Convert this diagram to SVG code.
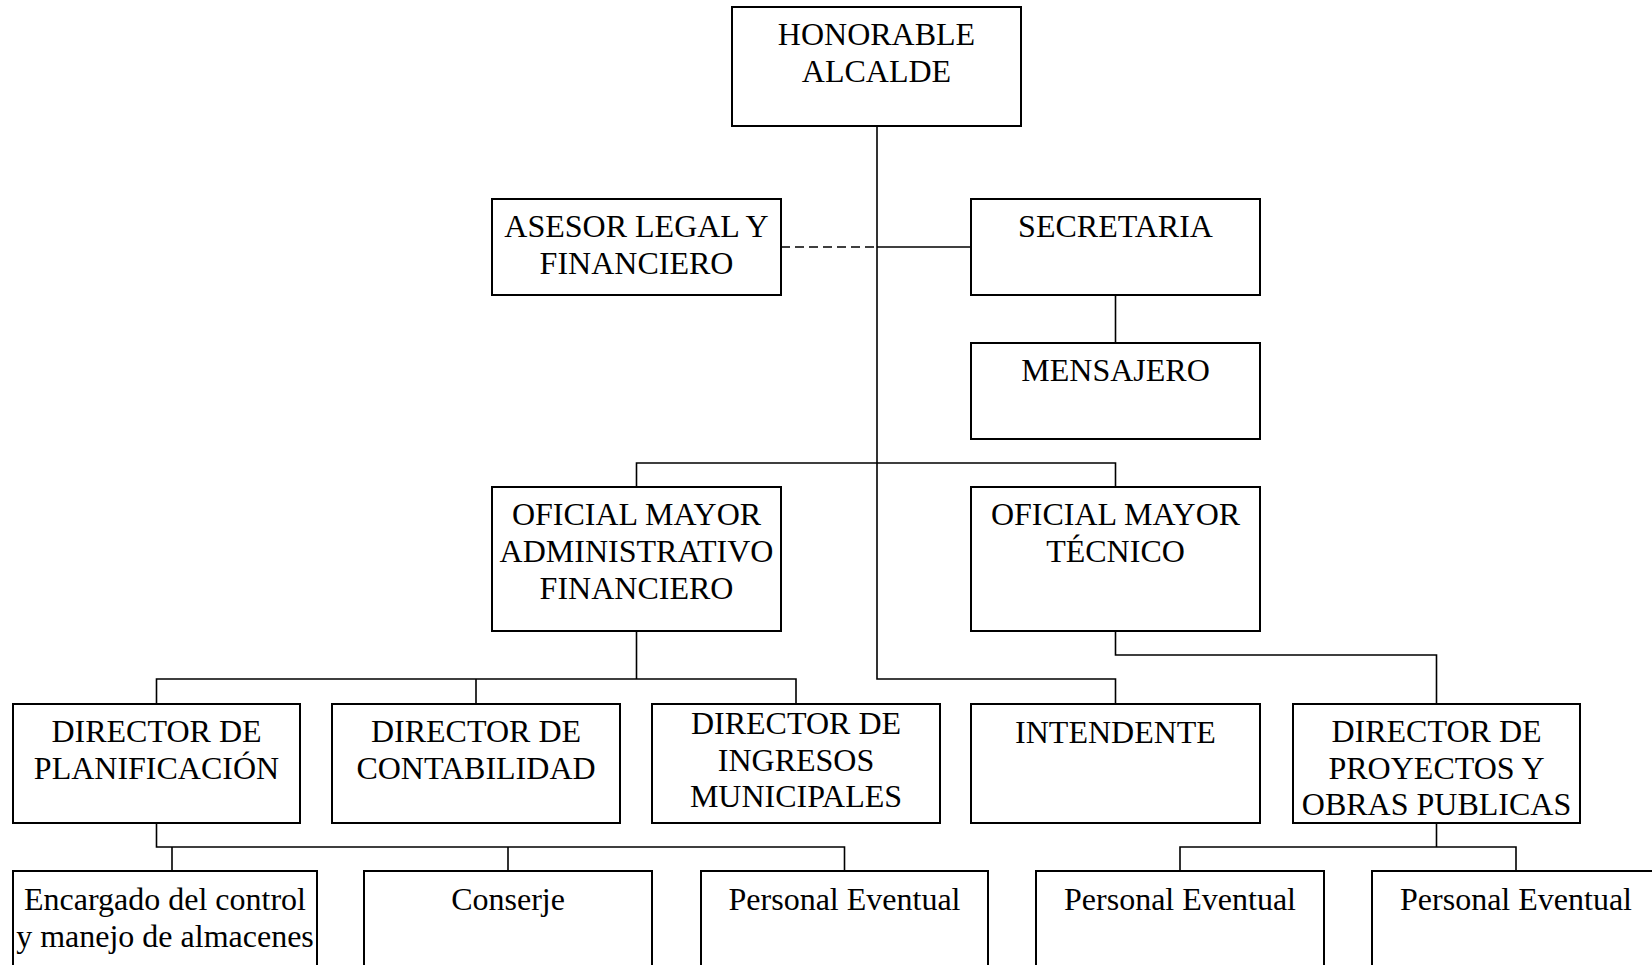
<svg xmlns="http://www.w3.org/2000/svg" width="1652" height="965" viewBox="0 0 1652 965">
<style>
.box{fill:#fff;stroke:#000;stroke-width:2}
.t{font-family:"Liberation Serif","Times New Roman",serif;font-size:32px;fill:#000;text-anchor:middle}
.c{fill:none;stroke:#000;stroke-width:1.6}
.d{fill:none;stroke:#000;stroke-width:1.6;stroke-dasharray:9 5}
</style>
<rect width="1652" height="965" fill="#fff"/>
<g id="connectors">
<path class="c" d="M877 126V679H1115.5V704"/>
<path class="d" d="M781 247H877"/>
<path class="c" d="M877 247H971"/>
<path class="c" d="M1115.5 295V343"/>
<path class="c" d="M636.5 487V463H1115.5V487"/>
<path class="c" d="M636.5 631V679"/>
<path class="c" d="M156.5 704V679H796V704M476 679V704"/>
<path class="c" d="M1115.5 631V655H1436.5V704"/>
<path class="c" d="M156.5 823V847H844.5V871M172 847V871M508 847V871"/>
<path class="c" d="M1436.5 823V847M1180 871V847H1516V871"/>
</g>
<g id="alcalde"><rect class="box" x="732" y="7" width="289" height="119"/><text class="t" x="876.5" y="45">HONORABLE</text><text class="t" x="876.5" y="82">ALCALDE</text></g>
<g id="asesor"><rect class="box" x="492" y="199" width="289" height="96"/><text class="t" x="636.5" y="237">ASESOR LEGAL Y</text><text class="t" x="636.5" y="274">FINANCIERO</text></g>
<g id="secretaria"><rect class="box" x="971" y="199" width="289" height="96"/><text class="t" x="1115.5" y="237">SECRETARIA</text></g>
<g id="mensajero"><rect class="box" x="971" y="343" width="289" height="96"/><text class="t" x="1115.5" y="381">MENSAJERO</text></g>
<g id="om-adm"><rect class="box" x="492" y="487" width="289" height="144"/><text class="t" x="636.5" y="525">OFICIAL MAYOR</text><text class="t" x="636.5" y="562">ADMINISTRATIVO</text><text class="t" x="636.5" y="599">FINANCIERO</text></g>
<g id="om-tec"><rect class="box" x="971" y="487" width="289" height="144"/><text class="t" x="1115.5" y="525">OFICIAL MAYOR</text><text class="t" x="1115.5" y="562">TÉCNICO</text></g>
<g id="dir-plan"><rect class="box" x="13" y="704" width="287" height="119"/><text class="t" x="156.5" y="742">DIRECTOR DE</text><text class="t" x="156.5" y="779">PLANIFICACIÓN</text></g>
<g id="dir-cont"><rect class="box" x="332" y="704" width="288" height="119"/><text class="t" x="476" y="742">DIRECTOR DE</text><text class="t" x="476" y="779">CONTABILIDAD</text></g>
<g id="dir-ing"><rect class="box" x="652" y="704" width="288" height="119"/><text class="t" x="796" y="734">DIRECTOR DE</text><text class="t" x="796" y="771">INGRESOS</text><text class="t" x="796" y="807">MUNICIPALES</text></g>
<g id="intendente"><rect class="box" x="971" y="704" width="289" height="119"/><text class="t" x="1115.5" y="743">INTENDENTE</text></g>
<g id="dir-proy"><rect class="box" x="1293" y="704" width="287" height="119"/><text class="t" x="1436.5" y="742">DIRECTOR DE</text><text class="t" x="1436.5" y="779">PROYECTOS Y</text><text class="t" x="1436.5" y="815">OBRAS PUBLICAS</text></g>
<g id="encargado"><rect class="box" x="13" y="871" width="304" height="110"/><text class="t" x="165" y="910">Encargado del control</text><text class="t" x="165" y="947">y manejo de almacenes</text></g>
<g id="conserje"><rect class="box" x="364" y="871" width="288" height="110"/><text class="t" x="508" y="910">Conserje</text></g>
<g id="pe1"><rect class="box" x="701" y="871" width="287" height="110"/><text class="t" x="844.5" y="910">Personal Eventual</text></g>
<g id="pe2"><rect class="box" x="1036" y="871" width="288" height="110"/><text class="t" x="1180" y="910">Personal Eventual</text></g>
<g id="pe3"><rect class="box" x="1372" y="871" width="288" height="110"/><text class="t" x="1516" y="910">Personal Eventual</text></g>
</svg>
